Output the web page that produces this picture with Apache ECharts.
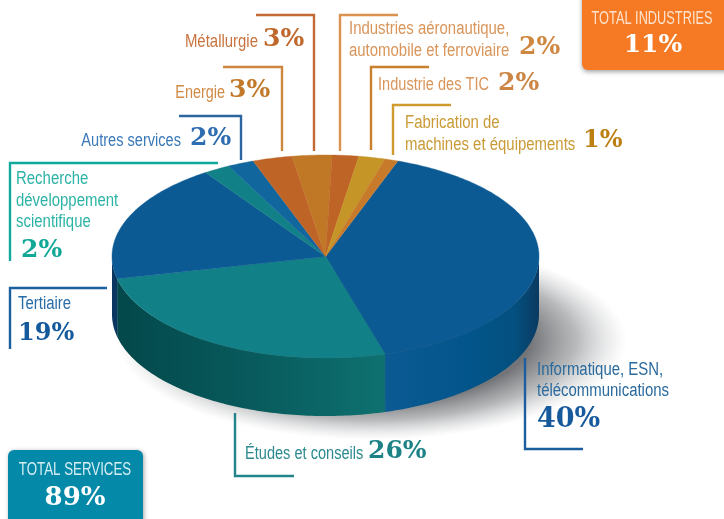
<!DOCTYPE html>
<html><head><meta charset="utf-8">
<style>html,body{margin:0;padding:0;background:#fff}#c{width:724px;height:519px}</style>
<script src="https://cdn.jsdelivr.net/npm/echarts@6/dist/echarts.min.js"></script>
</head><body><div id="c"></div>
<script>
const categories = ['Informatique, ESN, télécommunications','Études et conseils','Tertiaire','Recherche développement scientifique','Autres services','Energie','Métallurgie','Industries aéronautique, automobile et ferroviaire','Industrie des TIC','Fabrication de machines et équipements'];
const values = [40,26,19,2,2,3,3,2,2,1];
const totalLabels = ['TOTAL INDUSTRIES','TOTAL SERVICES'];
const totalValues = [11,89];

const topColors = ['#0c5a94','#128087','#0c5a94','#128087','#12669e','#bf6427','#c07726','#bf6427','#c59527','#c77b2a'];
const wallStops = {
  0:[[385,'#0c5a94'],[470,'#02558a'],[515,'#04507f'],[539,'#0a3a62']],
  1:[[118,'#03484b'],[250,'#085a5c'],[385,'#0e7170']],
  2:[[112,'#0a3560'],[118,'#0a3862']]
};
const G = {cx:325.5, cy:256.5, rx:213.5, ry:101.5, depth:58, start:19.8};
const total = values.reduce((a,b)=>a+b,0);
const startOf = i => G.start + values.slice(0,i).reduce((a,b)=>a+b,0)/total*360;
const pt = (t,dy=0)=>{const r=t*Math.PI/180;return [G.cx+G.rx*Math.sin(r),G.cy-G.ry*Math.cos(r)+dy];};
function arc(a,b,dy){const n=Math.max(2,Math.ceil((b-a)/1)),o=[];for(let i=0;i<=n;i++)o.push(pt(a+(b-a)*i/n,dy));return o;}

function renderTop(params,api){
  const i=params.dataIndex, a=startOf(i), b=a+api.value(0)/total*360;
  return {type:'polygon',shape:{points:[[G.cx,G.cy],...arc(a,b,0)]},style:{fill:topColors[i],stroke:topColors[i],lineWidth:0.4}};
}
function renderWall(params,api){
  const i=params.dataIndex, a=Math.max(startOf(i),90), b=Math.min(startOf(i)+api.value(0)/total*360,270);
  if(b<=a) return null;
  const stops=wallStops[i], x0=stops[0][0], x1=stops[stops.length-1][0];
  return {type:'polygon',shape:{points:[...arc(a,b,0),...arc(a,b,G.depth).reverse()]},
    style:{fill:new echarts.graphic.LinearGradient(x0,0,x1,0,stops.map(s=>({offset:(s[0]-x0)/(x1-x0),color:s[1]})),true)}};
}

const SANS='"Liberation Sans",sans-serif';
const SERIF='"DejaVu Serif",serif';
const gfx=[];
function label(x,y,text,fill,align,sx,size){
  gfx.push({type:'text',z:10,x,y,scaleX:sx||0.83,style:{text,fill,font:`normal ${size||18}px ${SANS}`,textAlign:align||'left',textVerticalAlign:'middle'}});
}
function num(x,y,v,fill,align,size){
  gfx.push({type:'text',z:10,x,y,style:{text:v+'%',fill,font:`bold ${size||25}px ${SERIF}`,textAlign:align||'left',textVerticalAlign:'middle'}});
}
function line(points,color){gfx.push({type:'polyline',z:9,shape:{points},style:{stroke:color,lineWidth:2.4,fill:null}});}

// drop shadow under the disc
gfx.push({type:'circle',z:0,x:372,y:340,scaleX:2.55,scaleY:1.0,shape:{cx:0,cy:0,r:100},
  style:{fill:new echarts.graphic.RadialGradient(0,0,100,[
    {offset:0,color:'rgba(115,117,120,1)'},{offset:0.62,color:'rgba(115,117,120,1)'},
    {offset:0.8,color:'rgba(145,147,150,0.65)'},{offset:1,color:'rgba(190,192,195,0)'}],true)}});

// boxes
gfx.push({type:'rect',z:5,shape:{x:582,y:-10,width:150,height:80,r:6},style:{fill:'#f57a23',shadowBlur:4,shadowOffsetY:2,shadowColor:'rgba(0,0,0,.35)'}});
gfx.push({type:'rect',z:5,shape:{x:8,y:450,width:135,height:80,r:6},style:{fill:'#0489a8',shadowBlur:4,shadowOffsetX:1,shadowOffsetY:1,shadowColor:'rgba(0,0,0,.35)'}});
label(652,19,totalLabels[0],'#fde3cf','center',0.71);
num(653,45,totalValues[0],'#fff','center');
label(75,470,totalLabels[1],'#d5eef3','center',0.74);
num(75,498,totalValues[1],'#fff','center',26);

// leaders
line([[179,116],[241,116],[241,160]],'#2b669f');
line([[223,67],[282,67],[282,151]],'#cc873f');
line([[256,15],[314,15],[314,151]],'#c46a32');
line([[340,151],[340,15],[398,15]],'#d9924f');
line([[371,150],[371,67],[429,67]],'#c8802e');
line([[393,155],[393,105],[451,105]],'#cf9a2e');
line([[218,163],[10,163],[10,261]],'#10a99c');
line([[107,288],[10,288],[10,349]],'#1b5f9e');
line([[235,413],[235,476],[294,476]],'#218488');
line([[525,358],[525,449],[583,449]],'#1b5f9e');

// labels
label(258,42,'Métallurgie','#c9743f','right');
num(263,39,values[6],'#c0682b');
label(225,93,'Energie','#d08a45','right',0.8);
num(229,90,values[5],'#c27a2a');
label(181,141,'Autres services','#3b78b8','right',0.81);
num(190,138,values[4],'#2f6db2');
label(16,179,'Recherche','#2bb3a5');
label(16,201,'développement','#2bb3a5');
label(16,222,'scientifique','#2bb3a5');
num(21,250,values[3],'#12a898');
label(349,29,'Industries aéronautique,','#d9955a');
label(349,51,'automobile et ferroviaire','#d9955a');
num(519,47,values[7],'#cf8740');
label(378,85,'Industrie des TIC','#d9955a',undefined,0.81);
num(498,83,values[8],'#cd8544');
label(405,123,'Fabrication de','#c99a35');
label(405,145,'machines et équipements','#c99a35');
num(583,141,values[9],'#bb7f12','left',24);
label(18,304,'Tertiaire','#2a6ca6');
num(18,334,values[2],'#14599b','left',24);
label(245,454,'Études et conseils','#2a8a8e',undefined,0.81);
num(368,451,values[1],'#1c8286');
label(537,370,'Informatique, ESN,','#2a6a9e');
label(537,391,'télécommunications','#2a6a9e');
num(537,420,values[0],'#175a9c','left',27);

const chart=echarts.init(document.getElementById('c'),null,{renderer:'canvas'});
const data=categories.map((name,i)=>({name,value:values[i]}));
chart.setOption({
  animation:false,
  graphic:{elements:gfx},
  series:[
    {type:'custom',coordinateSystem:'none',renderItem:renderWall,data,z:2},
    {type:'custom',coordinateSystem:'none',renderItem:renderTop,data,z:3}
  ]
});
</script></body></html>
